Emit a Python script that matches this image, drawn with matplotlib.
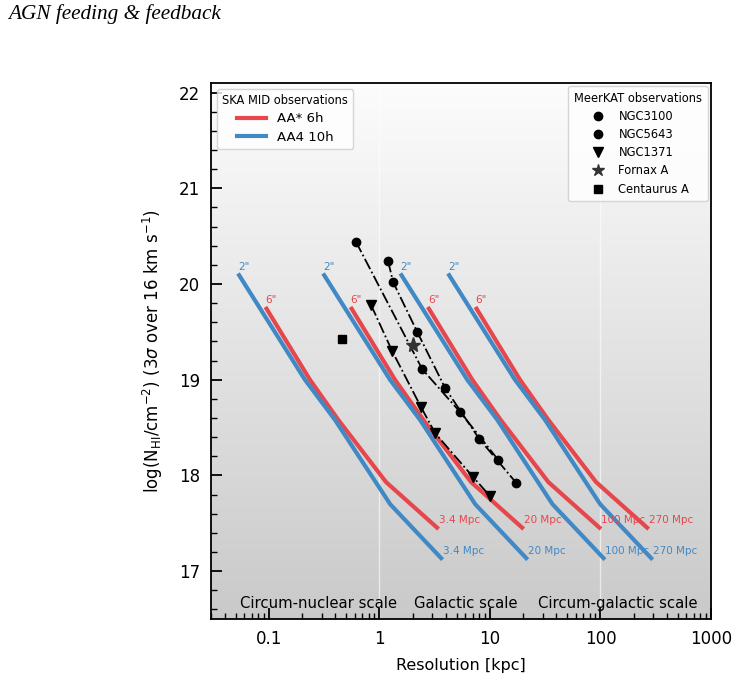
import numpy as np
import matplotlib
matplotlib.use("Agg")
import matplotlib.pyplot as plt
from matplotlib.lines import Line2D

# ---------------- data ----------------
distances = ["3.4 Mpc", "20 Mpc", "100 Mpc", "270 Mpc"]

# AA* 6h (6") sensitivity curves: resolution [kpc] and log N_HI
red_res = [
    [0.0933, 0.2355, 0.4256, 1.151, 3.436],
    [0.549, 1.385, 2.503, 6.77, 20.21],
    [2.744, 6.93, 12.52, 33.85, 101.1],
    [7.41, 18.70, 33.80, 91.4, 272.9],
]
red_logN = [19.76, 19.00, 18.58, 17.93, 17.44]

# AA4 10h (2") sensitivity curves
blue_res = [
    [0.0527, 0.2123, 0.3972, 1.252, 3.733],
    [0.310, 1.249, 2.336, 7.36, 21.96],
    [1.550, 6.24, 11.68, 36.8, 109.8],
    [4.185, 16.86, 31.54, 99.4, 296.4],
]
blue_logN = [20.11, 19.00, 18.58, 17.70, 17.12]

# MeerKAT observations
ngc3100_res = [1.20, 1.332, 2.20, 3.948, 8.03, 17.38]
ngc3100_logN = [20.24, 20.02, 19.50, 18.91, 18.38, 17.92]
ngc5643_res = [0.615, 2.443, 5.40, 11.94]
ngc5643_logN = [20.44, 19.11, 18.66, 18.16]
ngc1371_res = [0.842, 1.305, 2.392, 3.204, 7.086, 10.10]
ngc1371_logN = [19.78, 19.30, 18.71, 18.44, 17.98, 17.78]
fornax_res = [2.023]
fornax_logN = [19.36]
cena_res = [0.459]
cena_logN = [19.43]

scale_labels = ["Circum-nuclear scale", "Galactic scale", "Circum-galactic scale"]

RED = "#E6474C"
BLUE = "#4189C4"

# ---------------- figure ----------------
fig = plt.figure(figsize=(7.39, 6.83), dpi=100)
ax = fig.add_axes([0.2855, 0.0937, 0.6766, 0.7848])
ax.set_xscale("log")
ax.set_xlim(0.03, 1000)
ax.set_ylim(16.5, 22.1)

# background gradient (light at top, grey at bottom)
g = np.linspace(0.99, 0.79, 256).reshape(-1, 1)
rgb = np.dstack([g, g, g])
ax.imshow(rgb, extent=[0, 1, 0, 1], transform=ax.transAxes, aspect="auto",
          origin="upper", zorder=0, interpolation="bilinear")
for xv in [1, 100]:
    ax.axvline(xv, color="white", lw=1.0, alpha=0.6, zorder=0.5)

# sensitivity curves
lab_fs = 7.5
for i, d in enumerate(distances):
    ax.plot(red_res[i], red_logN, color=RED, lw=3, zorder=2, solid_capstyle="butt")
    ax.plot(blue_res[i], blue_logN, color=BLUE, lw=3, zorder=2, solid_capstyle="butt")
    ax.text(blue_res[i][0], blue_logN[0] + 0.07, '2"', color=BLUE, fontsize=lab_fs,
            ha="left", va="center")
    ax.text(red_res[i][0], red_logN[0] + 0.07, '6"', color=RED, fontsize=lab_fs,
            ha="left", va="center")
    ax.text(red_res[i][-1], red_logN[-1] + 0.09, d, color=RED, fontsize=lab_fs,
            ha="left", va="center")
    ax.text(blue_res[i][-1], blue_logN[-1] + 0.09, d, color=BLUE, fontsize=lab_fs,
            ha="left", va="center")

# MeerKAT
ms = 6
ax.plot(ngc3100_res, ngc3100_logN, "k-.", lw=1.3, marker="o", ms=ms, zorder=3)
ax.plot(ngc5643_res, ngc5643_logN, "k-.", lw=1.3, marker="o", ms=ms, zorder=3)
ax.plot(ngc1371_res, ngc1371_logN, "k-.", lw=1.3, marker="v", ms=ms + 1, zorder=3)
ax.plot(fornax_res, fornax_logN, ls="none", color="#333333", marker="*", ms=ms + 5, zorder=3)
ax.plot(cena_res, cena_logN, ls="none", color="k", marker="s", ms=ms, zorder=3)

# scale labels
ax.text(0.284, 16.66, scale_labels[0], fontsize=10.7, ha="center", va="center")
ax.text(6.0, 16.66, scale_labels[1], fontsize=10.7, ha="center", va="center")
ax.text(143, 16.66, scale_labels[2], fontsize=10.7, ha="center", va="center")

# legends
h1 = [Line2D([], [], color=RED, lw=3, label="AA* 6h"),
      Line2D([], [], color=BLUE, lw=3, label="AA4 10h")]
leg1 = ax.legend(handles=h1, title="SKA MID observations", loc="upper left",
                 fontsize=9.5, title_fontsize=8.3, borderaxespad=0.45,
                 labelspacing=0.4, handlelength=2.2)
ax.add_artist(leg1)
h2 = [Line2D([], [], ls="none", color="k", marker="o", ms=6, label="NGC3100"),
      Line2D([], [], ls="none", color="k", marker="o", ms=6, label="NGC5643"),
      Line2D([], [], ls="none", color="k", marker="v", ms=7, label="NGC1371"),
      Line2D([], [], ls="none", color="#333333", marker="*", ms=9, label="Fornax A"),
      Line2D([], [], ls="none", color="k", marker="s", ms=6, label="Centaurus A")]
ax.legend(handles=h2, title="MeerKAT observations", loc="upper right",
          fontsize=8.3, title_fontsize=8.3, borderaxespad=0.3, borderpad=0.5,
          labelspacing=0.44)

# axes styling
ax.set_xticks([0.1, 1, 10, 100, 1000])
ax.set_xticklabels(["0.1", "1", "10", "100", "1000"])
ax.set_yticks([17, 18, 19, 20, 21, 22])
ax.yaxis.set_minor_locator(matplotlib.ticker.MultipleLocator(0.2))
ax.tick_params(which="major", direction="in", length=8, width=1.3, labelsize=12, pad=8)
ax.tick_params(which="minor", direction="in", length=4.5, width=1.0)
for s in ax.spines.values():
    s.set_linewidth(1.3)
ax.set_xlabel("Resolution [kpc]", fontsize=11.5, labelpad=7)
ax.set_ylabel(r"log(N$_{\rm HI}$/cm$^{-2}$) (3$\sigma$ over 16 km s$^{-1}$)", fontsize=12,
              labelpad=10)

fig.text(0.011, 0.979, "AGN feeding & feedback", fontsize=15.3, style="italic",
         family="Liberation Serif", ha="left", va="center")

fig.savefig("out.png", dpi=100)
